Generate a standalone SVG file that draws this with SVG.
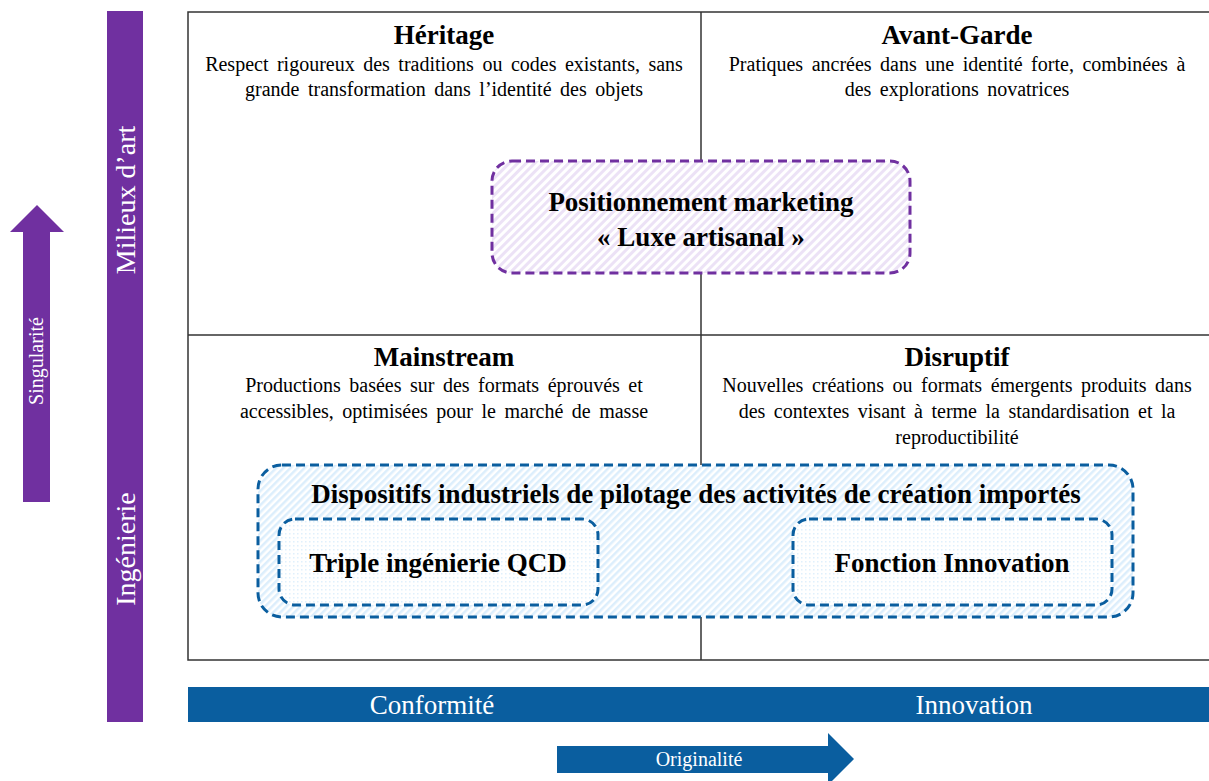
<svg xmlns="http://www.w3.org/2000/svg" width="1209" height="781" viewBox="0 0 1209 781">
<style>
.title{font-family:"Liberation Serif","Times New Roman",serif;font-weight:bold;font-size:27px;fill:#000;text-anchor:middle}
.body{font-family:"Liberation Serif","Times New Roman",serif;font-size:20px;fill:#000;text-anchor:middle;word-spacing:3.5px}
.axis{font-family:"Liberation Serif","Times New Roman",serif;fill:#fff;text-anchor:middle}
.grid{stroke:#333;stroke-width:1.5;fill:none}
</style>
<defs>
<pattern id="hatchP" patternUnits="userSpaceOnUse" width="6" height="6" patternTransform="rotate(45)">
<rect width="6" height="6" fill="#fff"/>
<rect width="3" height="6" fill="#ECE2F6"/>
</pattern>
<pattern id="hatchB" patternUnits="userSpaceOnUse" width="5" height="5" patternTransform="rotate(45)">
<rect width="5" height="5" fill="#fff"/>
<rect width="2.5" height="5" fill="#DCEEFC"/>
</pattern>
<pattern id="dots" patternUnits="userSpaceOnUse" width="4" height="4">
<rect width="4" height="4" fill="#fff"/>
<rect x="1" y="1" width="1.5" height="1.5" fill="#E0F0FC"/>
</pattern>
</defs>

<!-- axes -->
<g id="axis-vertical">
<rect x="107" y="11" width="36" height="711" fill="#7030A0"/>
<text class="axis" font-size="28" transform="translate(135,200) rotate(-90)">Milieux d’art</text>
<text class="axis" font-size="28" transform="translate(135,549) rotate(-90)">Ingénierie</text>
</g>
<g id="arrow-singularite">
<polygon points="23,502 23,232 10,232 37,205 64,232 50,232 50,502" fill="#7030A0"/>
<text class="axis" font-size="20" transform="translate(43,361) rotate(-90)">Singularité</text>
</g>
<g id="axis-horizontal">
<rect x="188" y="687" width="1030" height="35" fill="#0A5E9F"/>
<text class="axis" font-size="27" x="432" y="714">Conformité</text>
<text class="axis" font-size="27" x="974" y="714">Innovation</text>
</g>
<g id="arrow-originalite">
<polygon points="557,746 828,746 828,733 854,759 828,785 828,773 557,773" fill="#0A5E9F"/>
<text class="axis" font-size="20" x="699" y="766">Originalité</text>
</g>

<!-- grid -->
<g id="connectors">
<rect class="grid" x="188" y="12" width="1030" height="648"/>
<line class="grid" x1="701" y1="12" x2="701" y2="660"/>
<line class="grid" x1="188" y1="335" x2="1218" y2="335"/>
</g>

<g id="heritage">
<text class="title" x="444" y="44">Héritage</text>
<text class="body" x="444" y="71">Respect rigoureux des traditions ou codes existants, sans</text>
<text class="body" x="444" y="96">grande transformation dans l’identité des objets</text>
</g>
<g id="avant-garde">
<text class="title" x="957" y="44">Avant-Garde</text>
<text class="body" x="957" y="71">Pratiques ancrées dans une identité forte, combinées à</text>
<text class="body" x="957" y="96">des explorations novatrices</text>
</g>
<g id="mainstream">
<text class="title" x="444" y="366">Mainstream</text>
<text class="body" x="444" y="392">Productions basées sur des formats éprouvés et</text>
<text class="body" x="444" y="418">accessibles, optimisées pour le marché de masse</text>
</g>
<g id="disruptif">
<text class="title" x="957" y="366">Disruptif</text>
<text class="body" x="957" y="392">Nouvelles créations ou formats émergents produits dans</text>
<text class="body" x="957" y="418">des contextes visant à terme la standardisation et la</text>
<text class="body" x="957" y="444">reproductibilité</text>
</g>

<g id="luxe-artisanal">
<rect x="492" y="161" width="418" height="112" rx="20" fill="url(#hatchP)" stroke="#7030A0" stroke-width="3" stroke-dasharray="9,5"/>
<text class="title" x="701" y="211">Positionnement marketing</text>
<text class="title" x="701" y="246">« Luxe artisanal »</text>
</g>

<g id="dispositifs">
<rect x="258" y="465" width="875" height="152" rx="24" fill="url(#hatchB)" stroke="#0A5E9F" stroke-width="3" stroke-dasharray="9,5"/>
<text class="title" x="696" y="503">Dispositifs industriels de pilotage des activités de création importés</text>
</g>
<g id="qcd">
<rect x="279" y="519" width="319" height="86" rx="16" fill="url(#dots)" stroke="#0A5E9F" stroke-width="3" stroke-dasharray="9,5"/>
<text class="title" x="438" y="572">Triple ingénierie QCD</text>
</g>
<g id="fonction-innovation">
<rect x="793" y="519" width="319" height="86" rx="16" fill="url(#dots)" stroke="#0A5E9F" stroke-width="3" stroke-dasharray="9,5"/>
<text class="title" x="952" y="572">Fonction Innovation</text>
</g>
</svg>
